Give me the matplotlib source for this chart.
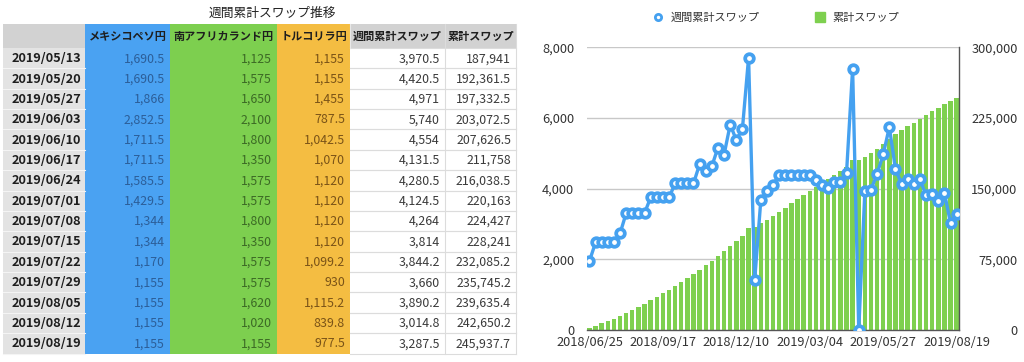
import matplotlib
matplotlib.use("Agg")
import matplotlib.pyplot as plt
from matplotlib.lines import Line2D
from matplotlib.patches import Rectangle
import numpy as np
import pandas as pd

plt.rcParams['font.family'] = ['Noto Sans CJK JP', 'DejaVu Sans']

# ---------------- data ----------------
title = "週間累計スワップ推移"
col_headers = ["", "メキシコペソ円", "南アフリカランド円", "トルコリラ円", "週間累計スワップ", "累計スワップ"]
tbl_dates = ["2019/05/13", "2019/05/20", "2019/05/27", "2019/06/03", "2019/06/10",
             "2019/06/17", "2019/06/24", "2019/07/01", "2019/07/08", "2019/07/15",
             "2019/07/22", "2019/07/29", "2019/08/05", "2019/08/12", "2019/08/19"]
mxn_jpy = [1690.5, 1690.5, 1866, 2852.5, 1711.5, 1711.5, 1585.5, 1429.5, 1344, 1344,
           1170, 1155, 1155, 1155, 1155]
zar_jpy = [1125, 1575, 1650, 2100, 1800, 1350, 1575, 1575, 1800, 1350,
           1575, 1575, 1620, 1020, 1155]
try_jpy = [1155, 1155, 1455, 787.5, 1042.5, 1070, 1120, 1120, 1120, 1120,
           1099.2, 930, 1115.2, 839.8, 977.5]
tbl_weekly = [3970.5, 4420.5, 4971, 5740, 4554, 4131.5, 4280.5, 4124.5, 4264, 3814,
              3844.2, 3660, 3890.2, 3014.8, 3287.5]
tbl_cumulative = [187941, 192361.5, 197332.5, 203072.5, 207626.5, 211758, 216038.5,
                  220163, 224427, 228241, 232085.2, 235745.2, 239635.4, 242650.2, 245937.7]

weeks = pd.date_range("2018-06-25", periods=61, freq="7D").strftime("%Y/%m/%d").tolist()
weekly_swap = [1950.5, 2480, 2480, 2480, 2480, 2733, 3307, 3307, 3307, 3307,
               3750, 3750, 3750, 3750, 4146, 4146, 4146, 4146, 4692, 4504,
               4636, 5164, 4966, 5814, 5371, 5701, 7708, 1413, 3675, 3930,
               4100, 4400, 4400, 4400, 4400, 4400, 4400, 4240, 4099, 4005,
               4193, 4193, 4429, 7397, 0, 3925,
               3970.5, 4420.5, 4971, 5740, 4554, 4131.5, 4280.5, 4124.5, 4264, 3814,
               3844.2, 3660, 3890.2, 3014.8, 3287.5]
cumulative_swap = [1950.5, 4430.5, 6910.5, 9390.5, 11870.5, 14603.5, 17910.5, 21217.5,
                   24524.5, 27831.5, 31581.5, 35331.5, 39081.5, 42831.5, 46977.5,
                   51123.5, 55269.5, 59415.5, 64107.5, 68611.5, 73247.5, 78411.5,
                   83377.5, 89191.5, 94562.5, 100263.5, 107971.5, 109384.5, 113059.5,
                   116989.5, 121089.5, 125489.5, 129889.5, 134289.5, 138689.5,
                   143089.5, 147489.5, 151729.5, 155828.5, 159833.5, 164026.5,
                   168219.5, 172648.5, 180045.5, 180045.5, 183970.5,
                   187941, 192361.5, 197332.5, 203072.5, 207626.5, 211758, 216038.5,
                   220163, 224427, 228241, 232085.2, 235745.2, 239635.4, 242650.2, 245937.7]
x_tick_labels = ["2018/06/25", "2018/09/17", "2018/12/10", "2019/03/04", "2019/05/27", "2019/08/19"]
line_label = "週間累計スワップ"
bar_label = "累計スワップ"

# ---------------- styles ----------------
BLUE = "#4AA2F2"
GREEN = "#7DCF4F"
ORANGE = "#F4BD42"
LINE_BLUE = "#45A1F0"
BAR_GREEN = "#7ED04F"

def fmt(v):
    return f"{v:,.1f}" if v % 1 else f"{v:,.0f}"

fig = plt.figure(figsize=(10.24, 3.62), dpi=100)

# ---------------- table (pixel coordinates) ----------------
tab = fig.add_axes([0, 0, 1, 1])
tab.set_xlim(0, 1024)
tab.set_ylim(362, 0)
tab.axis("off")

tab.text(272, 13, title, ha="center", va="center", fontsize=9.2, color="#222222")

col_x = [3, 85, 170, 277, 350, 445, 516]
head_top, head_bot = 23.5, 48
row_h = (353.5 - head_bot) / len(tbl_dates)
head_colors = ["#D2D2D2", BLUE, GREEN, ORANGE, "#D2D2D2", "#D2D2D2"]
body_colors = ["#E3E3E3", BLUE, GREEN, ORANGE, "#FFFFFF", "#FFFFFF"]
text_colors = ["#1E1E1E", "#2C5E98", "#3C6A25", "#7A5317", "#3A3A3A", "#3A3A3A"]

for c in range(6):
    x0, x1 = col_x[c], col_x[c + 1]
    tab.add_patch(Rectangle((x0, head_top), x1 - x0, head_bot - head_top,
                            facecolor=head_colors[c], edgecolor="none"))
    tab.add_patch(Rectangle((x0, head_bot), x1 - x0, row_h * len(tbl_dates),
                            facecolor=body_colors[c], edgecolor="none"))
    tab.text((x0 + x1) / 2, (head_top + head_bot) / 2 + 0.5, col_headers[c],
             ha="center", va="center", fontsize=8.0, fontweight="bold", color="#1E1E1E")

columns = [tbl_dates, mxn_jpy, zar_jpy, try_jpy, tbl_weekly, tbl_cumulative]
for r in range(len(tbl_dates)):
    yc = head_bot + row_h * (r + 0.5)
    for c in range(6):
        v = columns[c][r]
        if c == 0:
            tab.text(col_x[1] - 4, yc + 0.5, v, ha="right", va="center",
                     fontsize=9.2, fontweight="bold", color=text_colors[0])
        else:
            tab.text(col_x[c + 1] - 5, yc + 0.5, fmt(v), ha="right", va="center",
                     fontsize=8.9, color=text_colors[c])
    yl = head_bot + row_h * (r + 1)
    tab.plot([col_x[0], col_x[1]], [yl, yl], color="#F4F4F4", lw=0.8)
    tab.plot([col_x[4], col_x[6]], [yl, yl], color="#DCDCDC", lw=0.8)
    tab.plot([col_x[4], col_x[6]], [yl - row_h, yl - row_h], color="#DCDCDC", lw=0.8)

for xv in [col_x[5], col_x[6]]:
    tab.plot([xv, xv], [head_top, head_bot + row_h * len(tbl_dates)], color="#DCDCDC", lw=0.8)
tab.plot([col_x[4], col_x[4]], [head_top, head_bot], color="#E8E8E8", lw=0.8)

# ---------------- chart ----------------
ax2 = fig.add_axes([586.7 / 1024, 1 - 330 / 362, (958.5 - 586.7) / 1024, (330 - 47.3) / 362])
ax = ax2.twinx()
ax.yaxis.tick_left()
ax2.yaxis.tick_right()
ax2.yaxis.set_label_position("right")

xs = np.arange(len(weeks))
ax2.bar(xs, cumulative_swap, width=0.72, color=BAR_GREEN, zorder=2)
ax2.set_ylim(0, 300000)
ax2.set_yticks([0, 75000, 150000, 225000, 300000])
ax2.set_yticklabels([f"{v:,}" for v in [0, 75000, 150000, 225000, 300000]])
ax2.grid(axis="y", color="#C8C8C8", lw=1.0, zorder=0)
ax2.set_axisbelow(True)

ax.plot(xs, weekly_swap, color=LINE_BLUE, lw=2.4, marker="o", markersize=6.2,
        markerfacecolor="white", markeredgecolor=LINE_BLUE, markeredgewidth=2.7,
        solid_joinstyle="miter", zorder=3)
ax.set_ylim(0, 8000)
ax.set_yticks([0, 2000, 4000, 6000, 8000])
ax.set_yticklabels([f"{v:,}" for v in [0, 2000, 4000, 6000, 8000]])
ax.set_zorder(ax2.get_zorder() + 1)
ax.patch.set_visible(False)

ax2.set_xlim(-0.45, len(weeks) - 0.7)
ax.set_xlim(-0.45, len(weeks) - 0.7)
tick_pos = [weeks.index(t) for t in x_tick_labels]
ax2.set_xticks(tick_pos)
ax2.set_xticklabels(x_tick_labels)

for a in (ax, ax2):
    for s in ("top", "left", "right", "bottom"):
        a.spines[s].set_visible(False)
ax2.spines["right"].set_visible(True)
ax2.spines["right"].set_color("#555555")
ax2.spines["right"].set_linewidth(1.0)
ax2.spines["bottom"].set_visible(True)
ax2.spines["bottom"].set_color("#555555")
ax2.spines["bottom"].set_linewidth(1.0)

ax2.tick_params(axis="x", length=0, pad=4.5, labelsize=9.2, labelcolor="#333333")
ax2.tick_params(axis="y", length=0, pad=42.5, labelsize=9.2, labelcolor="#333333")
for lab in ax2.get_yticklabels():
    lab.set_horizontalalignment("right")
ax.tick_params(axis="y", length=0, pad=9, labelsize=9.2, labelcolor="#333333")

handles = [Line2D([], [], color=LINE_BLUE, marker="o", linestyle="none", markersize=4.5,
                  markerfacecolor="white", markeredgewidth=2),
           Line2D([], [], color=BAR_GREEN, marker="s", linestyle="none", markersize=7)]
fig.legend(handles, [line_label, bar_label], ncol=2, loc="center",
           bbox_to_anchor=(776 / 1024, 1 - 18 / 362), frameon=False, fontsize=8,
           columnspacing=5.0, handletextpad=0.6, handlelength=1.0,
           labelcolor="#333333")

fig.savefig("out.png", dpi=100, facecolor="white")
